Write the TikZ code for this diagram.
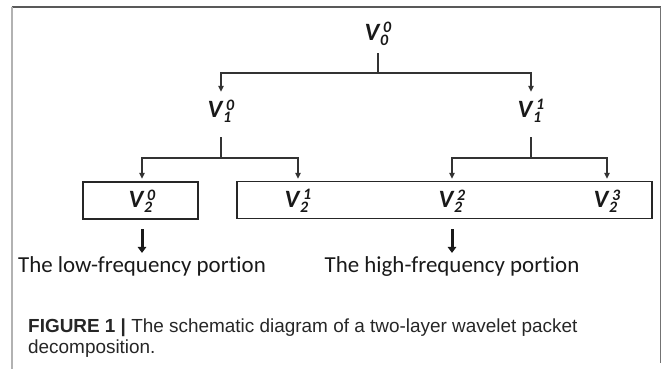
\documentclass[tikz,border=0pt]{standalone}
\usepackage{fontspec}
\usepackage{tikz}
\usetikzlibrary{arrows.meta,positioning}
\newfontfamily\diagfont{Carlito}[Ligatures=NoCommon]
\newfontfamily\capfont{Liberation Sans}
% V with subscript and superscript
\newcommand{\vname}[2]{V\kern0.6pt\rlap{\raisebox{-0.2em}{\fontsize{16}{16}\selectfont #1}}\kern3.2pt\raisebox{0.3em}{\fontsize{16}{16}\selectfont #2}}

\begin{document}
\begin{tikzpicture}[
  x=1bp, y=-1bp,
  vlabel/.style={font=\diagfont\fontsize{25}{28}\selectfont\bfseries\itshape, text=black!90, inner sep=0pt, minimum height=38bp},
  vlow/.style={vlabel, minimum height=44bp},
  groupbox/.style={draw=black!85, line width=1.8bp, inner sep=0pt},
  portion/.style={font=\diagfont\fontsize{23}{27}\selectfont, text=black!90, inner sep=0pt, inner ysep=3bp, anchor=base},
  branch/.style={draw=black!80, line width=1.1bp, -{Triangle[length=6bp,width=5.5bp]}},
  bigarrow/.style={draw=black!90, line width=3bp, -{Triangle[length=6bp,width=8.5bp]}},
  capline/.style={font=\capfont\fontsize{19}{22}\selectfont, text=black!85, inner sep=0pt, anchor=base west}
]
\useasboundingbox (0,0) rectangle (664,369);

% frame
\draw[black!65, line width=1.4bp] (11.5,7) -- (660.5,7);
\draw[black!30, line width=2bp] (11.5,7) -- (11.5,369);
\draw[black!55, line width=1.2bp] (660.5,7) -- (660.5,363);

% boxes round the last level
\node[groupbox, minimum width=115bp, minimum height=37bp] (lowbox) at (140.5,200.5) {};
\node[groupbox, minimum width=415bp, minimum height=37bp] (highbox) at (444.5,200) {};

% levels
\node[vlabel] (v00) at (378,34) {\vname{0}{0}};
\node[vlabel] (v10) at (221,111) {\vname{1}{0}};
\node[vlabel] (v11) at (531,111) {\vname{1}{1}};
\node[vlow] (v20) at (142,201) {\vname{2}{0}};
\node[vlow] (v21) at (298,201) {\vname{2}{1}};
\node[vlow] (v22) at (452,201) {\vname{2}{2}};
\node[vlow] (v23) at (607,201) {\vname{2}{3}};

\coordinate (j0) at (378,73);
\coordinate (j1) at (221,158);
\coordinate (j2) at (531,158);

\draw[branch] (v00.south) -- (j0) -| (v10.north);
\draw[branch] (j0) -| (v11.north);
\draw[branch] ([yshift=-7bp]v10.south) -- (j1) -| (v20.north);
\draw[branch] (j1) -| (v21.north);
\draw[branch] ([yshift=-7bp]v11.south) -- (j2) -| (v22.north);
\draw[branch] (j2) -| (v23.north);

\node[portion] (lowtext) at (142,272) {The low-frequency portion};
\node[portion] (hightext) at (452,272) {The high-frequency portion};
\draw[bigarrow] ([yshift=-6bp]v20.south) -- (lowtext.north);
\draw[bigarrow] ([yshift=-6bp]v22.south) -- (hightext.north);

% caption
\node[capline] (cap1) at (28,332) {\textbf{FIGURE 1 |} The schematic diagram of a two-layer wavelet packet};
\node[capline] (cap2) at (28,353) {decomposition.};
\end{tikzpicture}
\end{document}
